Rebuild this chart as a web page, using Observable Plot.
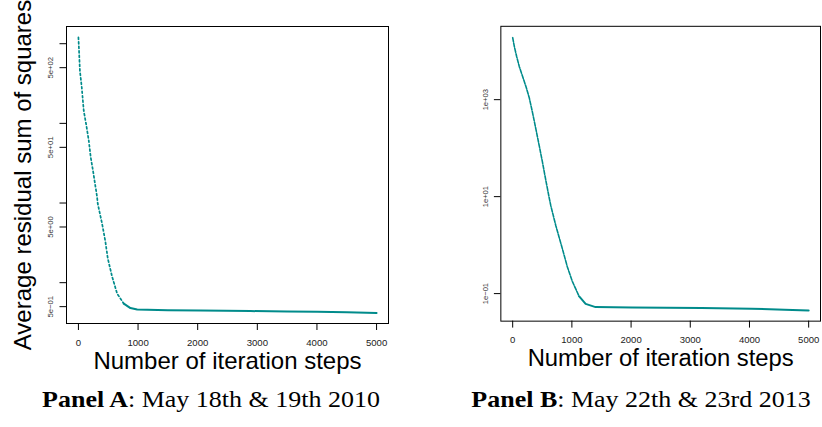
<!DOCTYPE html>
<html><head><meta charset="utf-8">
<script src="https://cdn.jsdelivr.net/npm/d3@7"></script>
<script src="https://cdn.jsdelivr.net/npm/@observablehq/plot@0.6"></script>
<style>
html,body{margin:0;padding:0;background:#fff;width:822px;height:427px;overflow:hidden;position:relative;font-family:"Liberation Sans",Arial,sans-serif}
#a{position:absolute;left:0;top:0}
#b{position:absolute;left:411px;top:0}
.cap{position:absolute;top:387.7px;font-family:"Liberation Serif","Times New Roman",serif;font-size:23px;line-height:1;white-space:nowrap;transform:translateX(-50%) scaleX(1.13);color:#000}
</style>
</head><body>
<div id="a"></div><div id="b"></div>
<div class="cap" id="capA" style="left:210.5px"></div>
<div class="cap" id="capB" style="left:640.8px"></div>
<script>
// Panel A (May 18th & 19th 2010)
const iterA = [0, 10, 25, 55, 89, 134, 173, 206, 246, 313, 324, 397, 453, 492, 565, 649, 761, 872, 985, 1500, 2047, 2886, 3500, 4004, 4500, 5000];
const rssA  = [1200, 825, 456, 288, 144, 93, 61, 37.6, 25, 11.9, 9.8, 5.5, 3.25, 2.02, 1.19, 0.73, 0.546, 0.48, 0.46, 0.45, 0.447, 0.44, 0.434, 0.43, 0.425, 0.417];
// Panel B (May 22th & 23rd 2013)
const iterB = [0, 29, 68, 112, 168, 224, 281, 336, 393, 449, 504, 561, 617, 645, 729, 840, 924, 1008, 1120, 1232, 1400, 2017, 3193, 4034, 4594, 5000];
const rssB  = [19000, 12300, 7690, 4800, 3000, 1870, 1080, 535, 244, 111, 50.7, 21.3, 9.44, 6.43, 2.51, 0.836, 0.353, 0.179, 0.0885, 0.0615, 0.0527, 0.0519, 0.0505, 0.0489, 0.0465, 0.0449];

const xTicks = [0, 1000, 2000, 3000, 4000, 5000];
const yTicksA = [1000, 500, 100, 50, 10, 5, 1, 0.5];
const yLabelValsA = [500, 50, 5, 0.5];
const yLabelTextA = ["5e+02", "5e+01", "5e+00", "5e\u221201"];
const yTicksB = [1000, 10, 0.1];
const yLabelValsB = [1000, 10, 0.1];
const yLabelTextB = ["1e+03", "1e+01", "1e\u221201"];
const xTitle = "Number of iteration steps";
const yTitle = "Average residual sum of squares";
const capBold = ["Panel A", "Panel B"];
const capRest = [": May 18th & 19th 2010", ": May 22th & 23rd 2013"];

const teal = "#008B8B";

function panel(o) {
  const data = o.iter.map((x, i) => ({x, y: o.rss[i]}));
  return Plot.plot({
    width: o.width, height: 380,
    marginLeft: o.ml, marginRight: o.mr, marginTop: 26, marginBottom: 57,
    x: {domain: [-200, 5200]},
    y: {type: "log", domain: o.yDomain},
    style: {fontFamily: "'Liberation Sans', Arial, sans-serif", background: "transparent", overflow: "visible"},
    marks: [
      Plot.frame({stroke: "black", strokeWidth: 1}),
      Plot.axisX(xTicks, {tickSize: 7, tickPadding: 8.5, fontSize: 9.6, fill: "#222", label: null, tickFormat: d => String(d)}),
      Plot.axisY(o.yTicks, {tickSize: 6.5, tickFormat: () => "", label: null}),
      Plot.text(o.yLabelVals, {y: d => d, text: (d, i) => o.yLabelText[i], frameAnchor: "left", textAnchor: "middle", rotate: -90, dx: o.labDx, fontSize: 7.7, lineAnchor: "middle", fill: "#333"}),
      Plot.line(data.filter(d => d.x <= o.steepEnd), {x: "x", y: "y", stroke: teal, strokeWidth: o.steepWidth, strokeDasharray: o.dash}),
      Plot.line(data.filter(d => d.x >= o.steepEnd), {x: "x", y: "y", stroke: teal, strokeWidth: 2}),
      Plot.text([xTitle], {frameAnchor: "bottom", textAnchor: "middle", dy: 45, lineAnchor: "bottom", fontSize: 24, fill: "#000"}),
      o.showYTitle ? Plot.text([yTitle], {frameAnchor: "left", textAnchor: "middle", rotate: -90, dx: -36, lineAnchor: "bottom", fontSize: 24, fill: "#000"}) : null
    ]
  });
}

document.getElementById("a").append(panel({
  iter: iterA, rss: rssA, width: 411, ml: 66, mr: 23,
  yDomain: [Math.pow(10, -0.5125), Math.pow(10, 3.216)],
  yTicks: yTicksA, yLabelVals: yLabelValsA, yLabelText: yLabelTextA,
  labDx: -16, steepEnd: 761, steepWidth: 1.7, dash: "2,2.5", showYTitle: true
}));
document.getElementById("b").append(panel({
  iter: iterB, rss: rssB, width: 414, ml: 90, mr: 2,
  yDomain: [Math.pow(10, -1.568), Math.pow(10, 4.513)],
  yTicks: yTicksB, yLabelVals: yLabelValsB, yLabelText: yLabelTextB,
  labDx: -15.5, steepEnd: 1120, steepWidth: 1.6, dash: "4,1.5", showYTitle: false
}));

["capA", "capB"].forEach((id, i) => {
  const el = document.getElementById(id);
  const b = document.createElement("b");
  b.textContent = capBold[i];
  el.append(b, document.createTextNode(capRest[i]));
});
</script>
</body></html>
